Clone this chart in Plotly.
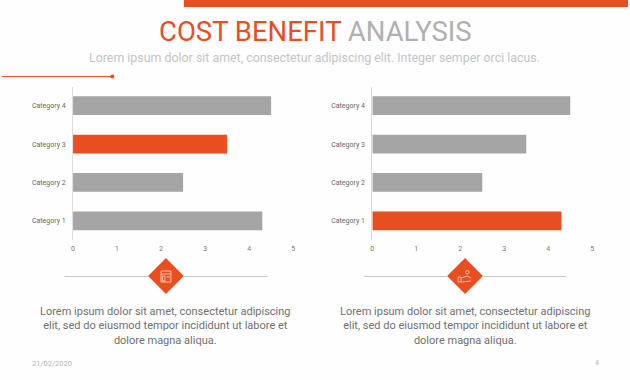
import plotly.graph_objects as go

W, H = 630, 380
categories = ["Category 1", "Category 2", "Category 3", "Category 4"]
left_values = [4.3, 2.5, 3.5, 4.5]
right_values = [4.3, 2.5, 3.5, 4.5]
x_ticks = [0, 1, 2, 3, 4, 5]
left_highlight = "Category 3"
right_highlight = "Category 1"
title_a = "COST BENEFIT"
title_b = " ANALYSIS"
subtitle = "Lorem ipsum dolor sit amet, consectetur adipiscing elit. Integer semper orci lacus."
body = "Lorem ipsum dolor sit amet, consectetur adipiscing<br>elit, sed do eiusmod tempor incididunt ut labore et<br>dolore magna aliqua."
date_text = "21/02/2020"
page_text = "4"

ORANGE = "#e84e1f"
GREY = "#a5a5a5"
FONT = "Roboto, sans-serif"

def px(x): return x / W
def py(y): return 1 - y / H

fig = go.Figure()
for vals, hl, ax in ((left_values, left_highlight, "x"), (right_values, right_highlight, "x2")):
    fig.add_trace(go.Bar(
        y=categories, x=vals, orientation="h", width=0.49,
        marker=dict(color=[ORANGE if c == hl else GREY for c in categories], line=dict(width=0)),
        xaxis=ax, yaxis=ax.replace("x", "y"), showlegend=False, hoverinfo="skip"))

xa = dict(range=[0, 5], tickvals=x_ticks, showgrid=False, zeroline=False, showline=False, ticks="",
          tickfont=dict(family=FONT, size=7, color="#777777"), ticklabelstandoff=3)
ya = dict(showgrid=False, zeroline=False, showline=True, linecolor="#dddddd", linewidth=1, ticks="",
          tickfont=dict(family=FONT, size=7, color="#666666"), ticklabelstandoff=5,
          categoryorder="array", categoryarray=categories)

shapes = []
def rect(x0, y0, x1, y1, color, lw=0, fill=True):
    shapes.append(dict(type="rect", xref="paper", yref="paper", x0=px(x0), x1=px(x1), y0=py(y0), y1=py(y1),
                       fillcolor=color if fill else "rgba(0,0,0,0)",
                       line=dict(width=lw, color=color)))
def line(x0, y0, x1, y1, color, lw=1):
    shapes.append(dict(type="line", xref="paper", yref="paper", x0=px(x0), x1=px(x1), y0=py(y0), y1=py(y1),
                       line=dict(width=lw, color=color)))
def poly(points, color):
    d = "M " + " L ".join(f"{px(a)} {py(b)}" for a, b in points) + " Z"
    shapes.append(dict(type="path", xref="paper", yref="paper", path=d, fillcolor=color, line=dict(width=0)))

rect(183, 0, 630, 7, ORANGE)
line(0, 76.5, 110, 76.5, ORANGE, 1)
shapes.append(dict(type="circle", xref="paper", yref="paper", x0=px(109), x1=px(113), y0=py(78.5), y1=py(74.5),
                   fillcolor=ORANGE, line=dict(width=0)))

for cx, x0, x1 in ((165, 63, 267), (466, 364, 567.5)):
    line(x0, 276.5, cx - 18, 276.5, "#c9c9c9", 1)
    line(cx + 18, 276.5, x1, 276.5, "#c9c9c9", 1)
    poly([(cx, 258), (cx + 18, 276), (cx, 294), (cx - 18, 276)], ORANGE)

ICON = "#f6c5ae"
rect(160, 271, 170, 282, ICON, 1, False)
line(160, 274, 170, 274, ICON, 1)
rect(161.5, 276, 164, 281, ICON, 1, False)
line(165.5, 277, 169, 277, ICON, 1)
shapes.append(dict(type="circle", xref="paper", yref="paper", x0=px(466.5), x1=px(470), y0=py(274), y1=py(270.5),
                   line=dict(width=1, color=ICON), fillcolor="rgba(0,0,0,0)"))
rect(459, 277, 462, 282, ICON, 1, False)
line(462, 278, 468, 276, ICON, 1)
line(468, 276, 472, 278, ICON, 1)
line(462, 282, 472, 281, ICON, 1)

def text(x, y, s, size, color, anchor="center"):
    return dict(xref="paper", yref="paper", x=px(x), y=py(y), text=s, showarrow=False, xanchor=anchor, yanchor="middle",
                align="center", font=dict(family=FONT, size=size, color=color))

annotations = [
    text(315, 31, f'<span style="color:{ORANGE}">{title_a}</span><span style="color:#b0b0b0">{title_b}</span>', 27.5, ORANGE),
    text(314.5, 57.5, subtitle, 12.4, "#c4c4c4"),
    text(165, 326, body, 11, "#707070"),
    text(466, 326, body, 11, "#707070"),
    text(28, 363, date_text, 7.5, "#b5b5b5", "left"),
    text(599, 363, page_text, 7, "#b5b5b5"),
]

fig.update_layout(
    width=W, height=H, margin=dict(l=0, r=0, t=0, b=0),
    paper_bgcolor="#fefefe", plot_bgcolor="rgba(0,0,0,0)",
    xaxis=dict(xa, domain=[px(71.5), px(293)], anchor="y"),
    xaxis2=dict(xa, domain=[px(372.7), px(594)], anchor="y2"),
    yaxis=dict(ya, domain=[py(240), py(86.5)], anchor="x"),
    yaxis2=dict(ya, domain=[py(240), py(86.5)], anchor="x2"),
    shapes=shapes, annotations=annotations,
)
fig.write_html("out.html", config=dict(displayModeBar=False), post_script="document.body.style.margin='0';")
